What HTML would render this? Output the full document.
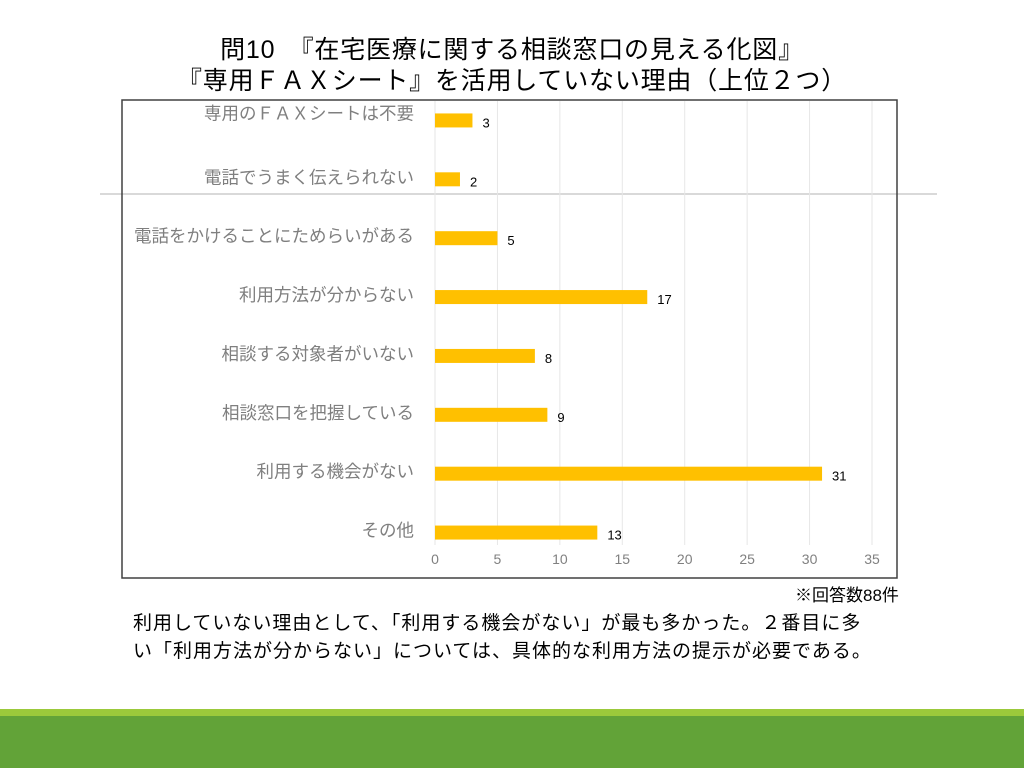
<!DOCTYPE html>
<html><head><meta charset="utf-8">
<style>
body{margin:0;width:1024px;height:768px;background:#fff;position:relative;overflow:hidden;font-family:"Liberation Sans","Noto Sans CJK JP",sans-serif;}
.t{position:absolute;white-space:nowrap;}
</style></head><body>
<div class="t" style="left:0;width:1024px;text-align:center;top:30px;font-size:25px;letter-spacing:0.8px;color:#000;">問10　『在宅医療に関する相談窓口の見える化図』</div>
<div class="t" style="left:0;width:1024px;text-align:center;top:61px;font-size:25px;letter-spacing:0.8px;color:#000;">『専用ＦＡＸシート』を活用していない理由（上位２つ）</div>
<div style="position:absolute;left:100px;top:193px;width:837px;height:2px;background:#d9d9d9;"></div>
<svg id="chart" width="1024" height="768" style="position:absolute;left:0;top:0;"></svg>
<div class="t" style="left:795px;top:581px;font-size:17px;color:#000;">※回答数88件</div>
<div class="t" style="left:133px;top:610px;font-size:19px;letter-spacing:1px;line-height:28px;color:#000;">利用していない理由として、「利用する機会がない」が最も多かった。２番目に多<br>い「利用方法が分からない」については、具体的な利用方法の提示が必要である。</div>
<div style="position:absolute;left:0;top:709px;width:1024px;height:7px;background:#9bc93b;"></div>
<div style="position:absolute;left:0;top:716px;width:1024px;height:52px;background:#62a338;"></div>
<script>
const categories=["専用のＦＡＸシートは不要","電話でうまく伝えられない","電話をかけることにためらいがある","利用方法が分からない","相談する対象者がいない","相談窓口を把握している","利用する機会がない","その他"];
const values=[3,2,5,17,8,9,31,13];
const ticks=[0,5,10,15,20,25,30,35];
const NS="http://www.w3.org/2000/svg";
const svg=document.getElementById('chart');
const x0=435,x1=872,xmax=35;
const xs=v=>x0+(x1-x0)*v/xmax;
const yTop=91,yBot=562;
const band=(yBot-yTop)/categories.length;
const yc=i=>yTop+band*(i+0.5);
function mk(t,a){const e=document.createElementNS(NS,t);for(const k in a)e.setAttribute(k,a[k]);svg.appendChild(e);return e;}
ticks.forEach(t=>{
 const g=mk('line',{x1:xs(t),x2:xs(t),y1:101,y2:545,stroke:'#e6e6e6','stroke-width':1});
 
 
 const l=mk('text',{x:xs(t),y:564,'text-anchor':'middle','font-size':14,fill:'#808080'});
 l.textContent=t;
 
 
});
const frame=mk('rect',{x:122,y:100,width:775,height:478,fill:'none',stroke:'#404040','stroke-width':1.5});


categories.forEach((c,i)=>{
 const y=yc(i);
 const b=mk('rect',{x:x0,y:y-7,width:xs(values[i])-x0,height:14,fill:'#ffc000'});
 
 
 const v=mk('text',{x:xs(values[i])+10,y:y+7,'font-size':13,fill:'#000'});
 v.textContent=values[i];
 
 
 const cl=mk('text',{x:414,y:(i===0?y-1:y+4),'text-anchor':'end','font-size':17.5,fill:'#7f7f7f'});
 cl.textContent=c;
 
 
});
</script>
</body></html>
